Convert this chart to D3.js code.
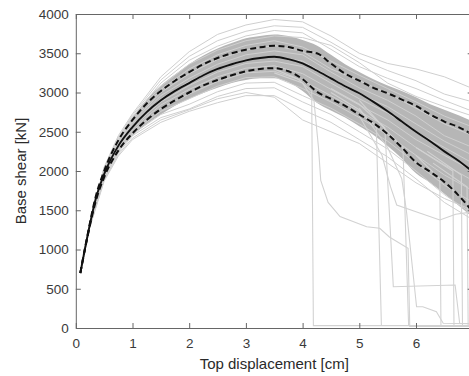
<!DOCTYPE html>
<html><head><meta charset="utf-8">
<script src="https://cdn.jsdelivr.net/npm/d3@7"></script>
<style>body{margin:0;background:#fff}svg{display:block;font-family:"Liberation Sans",Arial,sans-serif}</style>
</head><body><svg id="c" width="469" height="376"></svg>
<script>
const xTicks = [0, 1, 2, 3, 4, 5, 6];
const yTicks = [0, 500, 1000, 1500, 2000, 2500, 3000, 3500, 4000];
const xLabel = "Top displacement [cm]";
const yLabel = "Base shear [kN]";

const dispGrid   = [0.08,0.2,0.35,0.5,0.75,1,1.25,1.5,1.75,2,2.25,2.5,2.75,3,3.25,3.5,3.75,4,4.25,4.5,4.75,5,5.25,5.5,5.75,6,6.25,6.5,6.75,7];
const meanShear  = [700,1150,1640,1960,2320,2560,2750,2900,3020,3120,3220,3300,3360,3410,3440,3455,3425,3370,3280,3180,3080,2990,2880,2760,2630,2500,2380,2250,2130,1990];
const upperShear = [700,1160,1670,2000,2390,2650,2860,3020,3150,3260,3360,3440,3500,3545,3575,3595,3580,3530,3500,3370,3240,3150,3060,2990,2910,2830,2720,2630,2560,2460];
const lowerShear = [700,1140,1610,1920,2260,2480,2650,2790,2900,3000,3090,3160,3220,3270,3300,3310,3270,3170,3010,2920,2830,2720,2610,2470,2300,2110,1990,1860,1690,1480];
const bandHigh   = [700,1162,1680,2010,2400,2680,2910,3090,3230,3360,3470,3560,3630,3690,3720,3740,3720,3670,3600,3480,3360,3260,3170,3090,3020,2940,2850,2780,2710,2630];
const bandLow    = [700,1135,1600,1910,2240,2450,2600,2720,2830,2920,2995,3060,3120,3160,3180,3180,3130,3020,2870,2770,2680,2570,2460,2320,2160,1970,1850,1710,1560,1410];

const grayGrid = [0.08,0.25,0.5,0.75,1,1.5,2,2.5,3,3.5,4,4.5,5,5.5,6,6.5,7];
const grayCurves = [
  [700,1350,2050,2450,2730,3200,3520,3740,3860,3930,3900,3720,3500,3370,3300,3200,3050],
  [700,1346,2040,2430,2710,3160,3460,3660,3780,3850,3830,3640,3430,3280,3150,2980,2880],
  [700,1342,2030,2415,2690,3120,3410,3590,3720,3790,3760,3550,3330,3180,3050,2900,2760],
  [700,1338,2020,2400,2670,3080,3360,3540,3660,3720,3700,3600,3380,3120,2950,2820,2700],
  [700,1334,2005,2380,2645,3040,3300,3480,3600,3660,3580,3400,3220,3050,2880,2700,2560],
  [700,1330,1995,2365,2620,3000,3240,3420,3540,3600,3520,3300,3150,2990,2800,2600,2450],
  [700,1326,1985,2350,2600,2960,3180,3360,3480,3530,3480,3260,3060,2900,2700,2450,2300],
  [700,1322,1975,2335,2580,2920,3140,3310,3420,3460,3400,3190,2980,2820,2600,2380,2200],
  [700,1318,1960,2320,2560,2880,3090,3260,3370,3400,3330,3120,2920,2740,2500,2300,2100],
  [700,1314,1950,2300,2540,2840,3040,3200,3310,3340,3240,3040,2840,2650,2400,2200,2000],
  [700,1310,1940,2285,2515,2800,2980,3140,3250,3270,3150,2960,2760,2560,2300,2080,1880],
  [700,1306,1925,2270,2490,2760,2920,3080,3190,3200,3050,2880,2680,2460,2200,1950,1750],
  [700,1302,1915,2250,2470,2720,2850,3010,3120,3130,2960,2800,2600,2380,2100,1820,1600],
  [700,1298,1900,2230,2450,2680,2790,2950,3050,3060,2880,2720,2500,2280,2000,1700,1450],
  [700,1290,1870,2190,2400,2620,2760,2870,2960,2960,2780,2620,2400,2180,1900,1600,1380],
  [700,1294,1885,2210,2420,2650,2780,2920,3000,2940,2650,2500,2350,2100,1850,1650,1500]
];
const collapseCurves = [
  [[3.5,3300],[3.9,3180],[4.16,3020],[4.19,30],[7,30]],
  [[3.5,3250],[4.0,3120],[4.2,2900],[4.28,2300],[4.32,1880],[4.45,1600],[4.66,1420],[5.13,1290],[5.36,1270],[5.53,1160],[5.86,1015],[5.89,20],[7,20]],
  [[4.5,3000],[5.0,2780],[5.3,2560],[5.39,25]],
  [[4.5,3050],[5.0,2850],[5.45,2550],[5.5,1880],[5.6,526],[6.69,548],[6.77,60],[7,55]],
  [[5.0,2900],[5.5,2500],[5.77,2300],[5.87,25]],
  [[5.0,2800],[5.5,2300],[5.75,1900],[5.83,1500],[6.01,270],[6.12,270],[6.36,208],[6.48,60],[7,55]],
  [[5.0,2700],[5.4,2200],[5.55,1800],[5.66,1567],[6.0,1480],[6.42,1376],[6.7,1450],[7,1480]],
  [[6.0,2200],[6.42,1900],[6.44,25]],
  [[6.0,2300],[6.65,2000],[6.67,25]],
  [[6.2,2250],[6.8,1950],[6.82,25]],
  [[6.3,2100],[6.9,1800],[6.92,25]]
];

const svg = d3.select("#c");
const x = d3.scaleLinear().domain([0, 7]).range([75.8, 472.7]);
const y = d3.scaleLinear().domain([0, 4000]).range([328, 14]);
const [x0, x1] = x.range(), [y0, y1] = y.range();

svg.append("defs").append("clipPath").attr("id", "clip")
  .append("rect").attr("x", x0).attr("y", y1).attr("width", x1 - x0).attr("height", y0 - y1);
const plot = svg.append("g").attr("clip-path", "url(#clip)");

const area = d3.area().x((d, i) => x(dispGrid[i])).y0((d, i) => y(bandLow[i])).y1(d => y(d)).curve(d3.curveMonotoneX);
plot.append("path").datum(bandHigh).attr("d", area).attr("fill", "#b6b6b6");

const gline = d3.line().x((d, i) => x(grayGrid[i])).y(d => y(d));
plot.selectAll(".g").data(grayCurves).join("path")
  .attr("d", gline).attr("fill", "none").attr("stroke", "#cfcfcf").attr("stroke-width", 1);

const pline = d3.line().x(d => x(d[0])).y(d => y(d[1]));
plot.selectAll(".cc").data(collapseCurves).join("path")
  .attr("d", pline).attr("fill", "none").attr("stroke", "#d2d2d2").attr("stroke-width", 1.1);

const mline = d3.line().x((d, i) => x(dispGrid[i])).y(d => y(d)).curve(d3.curveMonotoneX);
[upperShear, lowerShear].forEach(s => {
  plot.append("path").datum(s).attr("d", mline).attr("fill", "none")
    .attr("stroke", "#111").attr("stroke-width", 2).attr("stroke-dasharray", "6,3.5");
});
plot.append("path").datum(meanShear).attr("d", mline).attr("fill", "none")
  .attr("stroke", "#111").attr("stroke-width", 1.9);

// axes (box, inward ticks)
const axc = "#666", tl = 5;
const axB = d3.axisBottom(x).tickValues(xTicks).tickSizeInner(-tl).tickSizeOuter(0).tickPadding(10).tickFormat(d3.format("d"));
const axT = d3.axisTop(x).tickValues(xTicks).tickSizeInner(-tl).tickSizeOuter(0).tickFormat("");
const axL = d3.axisLeft(y).tickValues(yTicks).tickSizeInner(-tl).tickSizeOuter(0).tickPadding(7).tickFormat(d3.format("d"));
const axR = d3.axisRight(y).tickValues(yTicks).tickSizeInner(-tl).tickSizeOuter(0).tickFormat("");
function style(g) {
  g.selectAll("path,line").attr("stroke", axc).attr("stroke-width", 1);
  g.selectAll("text").attr("fill", "#3a3a3a").style("font-size", "13.5px").style("font-family", '"Liberation Sans",Arial,sans-serif');
}
svg.append("g").attr("transform", `translate(0,${y0})`).call(axB).call(style);
svg.append("g").attr("transform", `translate(0,${y1})`).call(axT).call(style);
svg.append("g").attr("transform", `translate(${x0},0)`).call(axL).call(style);
svg.append("g").attr("transform", `translate(${x1},0)`).call(axR).call(style);

svg.append("text").attr("x", (x0 + x1) / 2).attr("y", 369).attr("text-anchor", "middle")
  .attr("fill", "#2a2a2a").style("font-size", "15px").text(xLabel);
svg.append("text").attr("transform", `translate(26,${(y0 + y1) / 2}) rotate(-90)`).attr("text-anchor", "middle")
  .attr("fill", "#2a2a2a").style("font-size", "15px").text(yLabel);
</script></body></html>
